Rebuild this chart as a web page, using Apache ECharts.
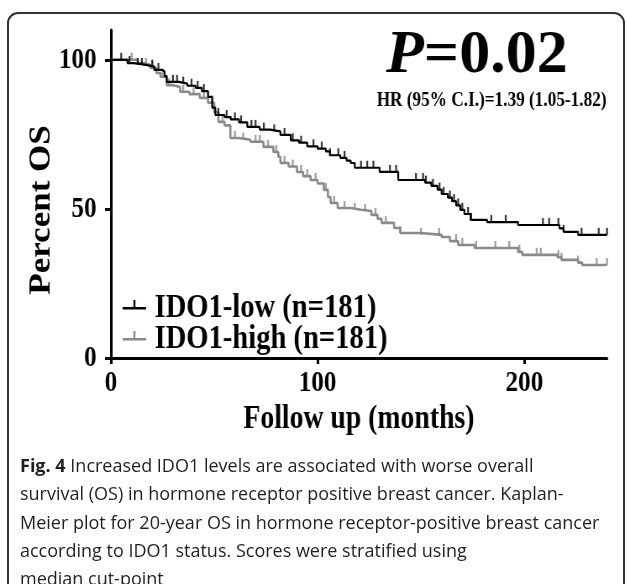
<!DOCTYPE html>
<html><head><meta charset="utf-8">
<script src="https://cdn.jsdelivr.net/npm/echarts@6/dist/echarts.min.js"></script>
<style>
html,body{margin:0;padding:0;background:#fff;width:627px;height:584px;overflow:hidden;}
#bg{position:absolute;left:0;top:0;width:627px;height:584px;}
#plot{position:absolute;left:0;top:0;width:746px;height:445px;transform:scaleX(0.84);transform-origin:0 0;}
</style></head><body>
<div id="bg"></div><div id="plot"></div>
<script>
// ---- data ----
const xTicks = [0, 100, 200];
const yTicks = [0, 50, 100];
const seriesNames = ['IDO1-low (n=181)', 'IDO1-high (n=181)'];
const lowTimes = [0, 8, 11, 17, 21, 25, 26, 27, 33, 37, 41, 44, 47, 49, 50.5, 55, 58, 62, 66, 72, 77, 82, 87, 91, 95, 100, 104, 106, 111, 114, 116, 118, 130, 139, 152, 155, 158, 160, 163, 165, 167, 169, 171, 174, 182, 197, 217, 219, 226, 240];
const lowSurv  = [100, 98.9, 98.3, 97.7, 96.6, 96, 94.5, 92.6, 92, 91.3, 90.6, 89.5, 87.6, 84, 81.5, 80.8, 80, 79, 77.5, 76.6, 76, 74.8, 73, 72.2, 71, 70.2, 69.3, 68, 67.1, 66.2, 65.4, 63.8, 62.4, 59.7, 58.8, 57.7, 56.5, 55, 53.8, 52.6, 51.2, 49.7, 48.3, 46.3, 45.6, 44.6, 43.5, 42.3, 41.3, 41.3];
const highTimes = [0, 13, 15.5, 19, 22, 24, 27, 30, 33.5, 38, 43, 47, 50, 52, 55, 57.8, 62, 67.5, 73.8, 78.6, 81, 82, 86, 90, 93, 96.6, 100, 103, 105, 106.3, 109.7, 116, 121, 126, 129, 131, 137, 140, 150, 160, 164, 168, 176, 197, 199, 216, 218, 226, 228, 240];
const highSurv  = [100, 98.9, 98.3, 97.3, 95.6, 94.3, 91.5, 90.9, 89.3, 88.5, 87.2, 85.6, 82.5, 79.2, 78, 73.8, 73.2, 72.5, 70.8, 69.1, 67.5, 65.4, 64.2, 62.4, 61, 59.7, 58.5, 56.4, 54, 52, 50.3, 49.7, 49.3, 48, 46.7, 45.3, 43.6, 41.9, 41.3, 40.6, 39.2, 37.9, 36.9, 35.6, 34.6, 33.8, 32.9, 32, 31.2, 31.2];
const lowCensorTimes = [5, 9, 13, 15, 20, 23, 30, 32, 35, 39, 42, 45, 52, 56, 60, 63, 68, 70, 74, 79, 84, 88, 92, 98, 102, 106, 110, 113, 121, 124, 127, 135, 138, 147.6, 151, 152.4, 155.8, 159, 161, 164, 166, 168, 170, 172.8, 174.3, 184, 191, 209, 212, 216.5, 219, 227.7, 236, 240];
const highCensorTimes = [10, 17, 20, 25, 28, 35, 40, 45, 49, 54, 60, 64, 70, 72, 76, 80, 84, 88, 92, 95, 99, 104, 108, 113, 118, 123, 128, 133, 140, 150, 158.8, 167, 170, 176.7, 186, 192.7, 197.6, 206, 208, 216.5, 218, 226, 235, 240];
const yAxisName = 'Percent OS';
const xAxisName = 'Follow up (months)';
const pText = '=0.02';
const hrText = 'HR (95% C.I.)=1.39 (1.05-1.82)';
const captionBold = 'Fig. 4';
const captionLines = [
  ' Increased IDO1 levels are associated with worse overall',
  'survival (OS) in hormone receptor positive breast cancer. Kaplan-',
  'Meier plot for 20-year OS in hormone receptor-positive breast cancer',
  'according to IDO1 status. Scores were stratified using',
  'median cut-point'
];

// ---- helpers ----
function pairs(ts, ss) { return ts.map((t, i) => [t, ss[i]]); }
function survAt(ts, ss, t) {
  let v = ss[0];
  for (let i = 0; i < ts.length; i++) { if (ts[i] <= t) v = ss[i]; }
  return v;
}
function censorData(cts, ts, ss) { return cts.map(t => [t, survAt(ts, ss, t)]); }

const SERIF = '"Liberation Serif", "Times New Roman", serif';
const SANS = '"Open Sans", "Noto Sans", sans-serif';
const BLACK = '#000000', GRAY = '#8a8a8a';
const legendIcon = 'path://M0,7h28v2.4h-28z M12.8,0h2.4v8h-2.4z M0,16h0.01v0.01h-0.01z';

// ---- background: frame + caption ----
const bg = echarts.init(document.getElementById('bg'));
bg.setOption({
  animation: false,
  graphic: [
    { type: 'rect', shape: { x: 8, y: 13, width: 616, height: 640, r: 10 },
      style: { fill: 'none', stroke: '#333333', lineWidth: 2 } },
    { type: 'text', left: 20, top: 452.5,
      style: {
        text: '{b|' + captionBold + '}' + captionLines.join('\n'),
        fontFamily: SANS, fontSize: 18, fill: '#231f20', lineHeight: 28.4,
        rich: { b: { fontWeight: 'bold', fontFamily: SANS, fontSize: 18, fill: '#231f20', lineHeight: 28.4 } }
      } }
  ]
});

// ---- plot (horizontally compressed like the reference figure) ----
const chart = echarts.init(document.getElementById('plot'));
chart.setOption({
  animation: false,
  grid: { left: 132, right: 23.4, top: 30, bottom: 87 },
  xAxis: {
    type: 'value', min: 0, max: 240,
    name: xAxisName, nameLocation: 'middle', nameGap: 40,
    nameTextStyle: { fontFamily: SERIF, fontWeight: 'bold', fontSize: 33, color: BLACK },
    axisLine: { lineStyle: { color: BLACK, width: 3 } },
    axisTick: { customValues: xTicks, length: 6, lineStyle: { color: BLACK, width: 3 } },
    axisLabel: { customValues: xTicks, margin: 10, fontFamily: SERIF, fontWeight: 'bold', fontSize: 30, color: BLACK },
    splitLine: { show: false }
  },
  yAxis: {
    type: 'value', min: 0, max: 110,
    axisLine: { show: true, lineStyle: { color: BLACK, width: 3 } },
    axisTick: { show: true, customValues: yTicks, length: 7, lineStyle: { color: BLACK, width: 3 } },
    axisLabel: { customValues: yTicks, margin: 17, fontFamily: SERIF, fontWeight: 'bold', fontSize: 30, color: BLACK },
    splitLine: { show: false }
  },
  legend: {
    orient: 'vertical', left: 146, top: 291, padding: 0, itemGap: -3,
    itemWidth: 28, itemHeight: 16, selectedMode: false,
    data: [ { name: seriesNames[0], icon: legendIcon }, { name: seriesNames[1], icon: legendIcon } ],
    textStyle: { fontFamily: SERIF, fontWeight: 'bold', fontSize: 34, color: BLACK, lineHeight: 31, padding: [0, 0, 0, 5] }
  },
  series: [
    { name: seriesNames[1], type: 'line', step: 'end', showSymbol: false, data: pairs(highTimes, highSurv),
      color: GRAY, itemStyle: { color: GRAY }, lineStyle: { color: GRAY, width: 2.6 }, z: 2 },
    { name: seriesNames[0], type: 'line', step: 'end', showSymbol: false, data: pairs(lowTimes, lowSurv),
      color: BLACK, itemStyle: { color: BLACK }, lineStyle: { color: BLACK, width: 2.2 }, z: 3 },
    { name: 'high-censor', type: 'scatter', data: censorData(highCensorTimes, highTimes, highSurv),
      symbol: 'rect', symbolSize: [2.4, 7], symbolOffset: [0, -3.5], itemStyle: { color: GRAY }, silent: true, z: 2 },
    { name: 'low-censor', type: 'scatter', data: censorData(lowCensorTimes, lowTimes, lowSurv),
      symbol: 'rect', symbolSize: [2.2, 7], symbolOffset: [0, -3.5], itemStyle: { color: BLACK }, silent: true, z: 3 }
  ],
  graphic: [
    { type: 'text', x: 49.5, y: 210, rotation: Math.PI / 2,
      style: { text: yAxisName, align: 'center', verticalAlign: 'middle',
        fontFamily: SERIF, fontWeight: 'bold', fontSize: 35, fill: BLACK } },
    { type: 'text', x: 459.5, y: 56, scaleX: 1.21,
      style: { text: '{p|P}{e|' + pText + '}', verticalAlign: 'middle', align: 'left',
        rich: {
          p: { fontFamily: SERIF, fontStyle: 'italic', fontWeight: 'bold', fontSize: 61, fill: BLACK },
          e: { fontFamily: SERIF, fontWeight: 'bold', fontSize: 61, fill: BLACK }
        } } },
    { type: 'text', x: 722, y: 101,
      style: { text: hrText, align: 'right', verticalAlign: 'middle',
        fontFamily: SERIF, fontWeight: 'bold', fontSize: 20.5, fill: BLACK } }
  ]
});
</script>
</body></html>
